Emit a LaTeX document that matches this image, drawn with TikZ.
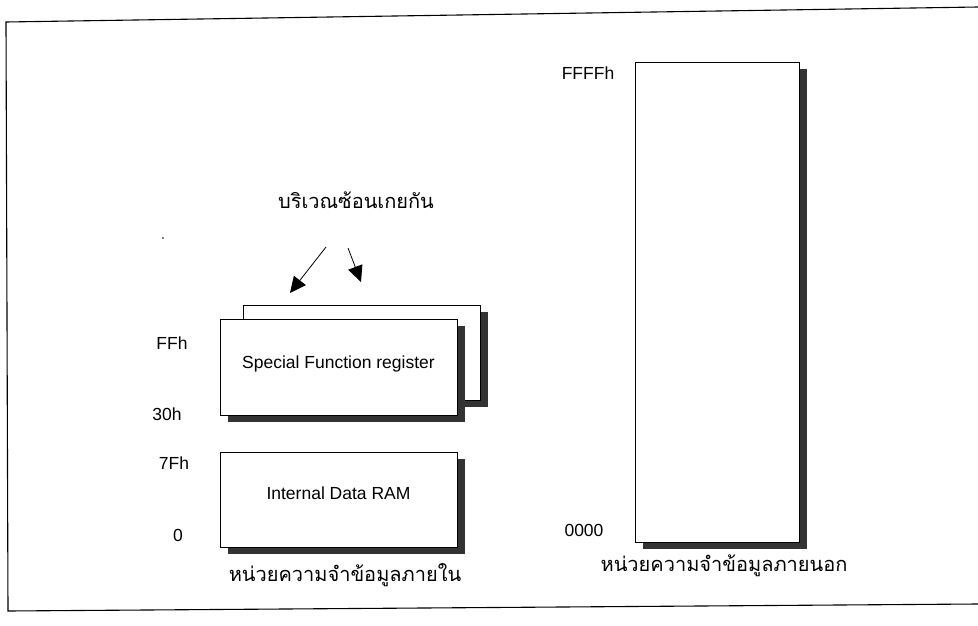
\documentclass[tikz,border=0pt]{standalone}
\usepackage{fontspec}
\setmainfont{Liberation Sans}
\newfontfamily\thaifont[Script=Thai]{Loma}
\usetikzlibrary{arrows.meta,positioning,shadows}

\begin{document}
\begin{tikzpicture}[x=1pt,y=-1pt,>={Triangle[length=16pt,width=15pt]},
    membox/.style={draw,line width=0.8pt,fill=white,font=\fontsize{17.5}{20}\selectfont,
      drop shadow={shadow xshift=8pt,shadow yshift=-7pt,fill=black!80,opacity=1}},
    addr/.style={font=\fontsize{17.5}{20}\selectfont,inner sep=0pt},
    thai/.style={font=\thaifont\fontsize{20}{24}\selectfont,inner sep=0pt}]
    \useasboundingbox (0,0) rectangle (978,626);
    % frame
    \draw[line width=1.1pt] (978,7) -- (6,22) -- (8,611) -- (978,604);
    % internal memory
    \node[membox,minimum width=237pt,minimum height=95pt] (sfrb) at (361.5,352.5) {};
    \node[membox,minimum width=237pt,minimum height=96pt,text depth=10pt] (sfr) at (338.5,367) {Special Function register};
    \node[membox,minimum width=237pt,minimum height=95pt,text depth=12pt] (ram) at (338.5,499.5) {Internal Data RAM};
    \node[thai] (intl) at (345,575) {หน่วยความจำข้อมูลภายใน};
    \node[addr] (ffh) at (172,343) {FFh};
    \node[addr] (h80) at (167,414) {30h};
    \node[addr] (h7f) at (174,463) {7Fh};
    \node[addr] (zero) at (178,535) {0};
    % overlap note
    \node[thai] (ovl) at (356,200) {บริเวณซ้อนเกยกัน};
    \node[fill=black,circle,inner sep=0.7pt] (dot) at (163,238) {};
    \coordinate (a1) at (326,247);
    \coordinate (a2) at (348,248);
    \draw[->,line width=0.8pt] (a1) -- (290,293);
    \draw[->,line width=0.8pt] (a2) -- (361,282);
    % external memory
    \node[membox,minimum width=164pt,minimum height=480pt] (ext) at (717,302) {};
    \node[addr] (ffffh) at (588,73) {FFFFh};
    \node[addr] (h0000) at (584,530) {0000};
    \node[thai] (extl) at (724,566) {หน่วยความจำข้อมูลภายนอก};
  \end{tikzpicture}
\end{document}
